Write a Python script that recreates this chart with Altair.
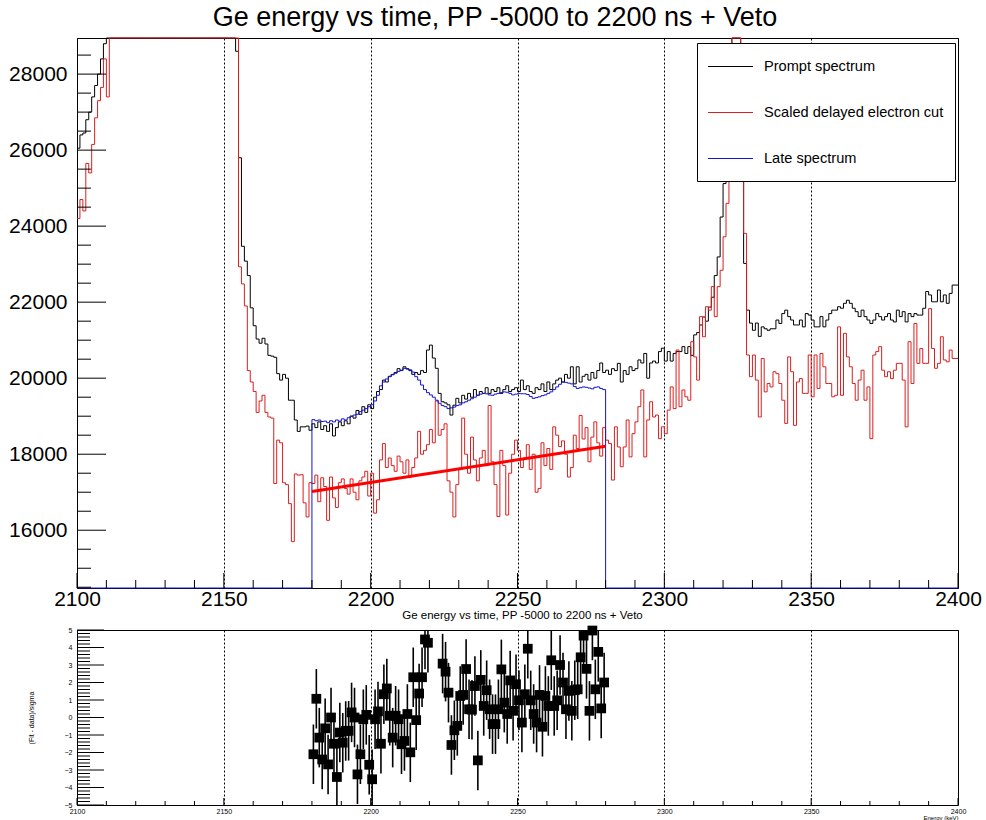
import altair as alt
import pandas as pd

FONT = "Liberation Sans"
TITLE = "Ge energy vs time, PP -5000 to 2200 ns + Veto"

# content of bins that lie above the top of the visible count range
OFF = 30500

# 1 keV bins, low edges 2100 ... 2399
E_FIRST = 2100
E_LAST = 2400

prompt_counts = [
    26050, 26400, 26450, 26800, 27000, 27400, 27700, 28000, 28400, 28800,  # 2100
    OFF, OFF, OFF, OFF, OFF, OFF, OFF, OFF, OFF, OFF,  # 2110
    OFF, OFF, OFF, OFF, OFF, OFF, OFF, OFF, OFF, OFF,  # 2120
    OFF, OFF, OFF, OFF, OFF, OFF, OFF, OFF, OFF, OFF,  # 2130
    OFF, OFF, OFF, OFF, OFF, OFF, OFF, OFF, OFF, OFF,  # 2140
    OFF, OFF, OFF, OFF, 28600, 25800, 23470, 23080, 22700, 21850,  # 2150
    21380, 21030, 20920, 21050, 20900, 20600, 20580, 20550, 20120, 19950,  # 2160
    20100, 20000, 19420, 19420, 18900, 18600, 18720, 18720, 18740, 18630,  # 2170
    18800, 18700, 18850, 18650, 18750, 18600, 18800, 18480, 18700, 18850,  # 2180
    18750, 18880, 18800, 19000, 18950, 19150, 19050, 19250, 19100, 19300,  # 2190
    19200, 19500, 19650, 19700, 19950, 19900, 20050, 20100, 20150, 20250,  # 2200
    20200, 20300, 20250, 20200, 20100, 20150, 20100, 20200, 20150, 20740,  # 2210
    20870, 20530, 20260, 19600, 19380, 19350, 19300, 19030, 19290, 19470,  # 2220
    19350, 19550, 19450, 19600, 19500, 19700, 19550, 19650, 19600, 19750,  # 2230
    19600, 19700, 19650, 19750, 19600, 19700, 19800, 19650, 19700, 19750,  # 2240
    19650, 19950, 19700, 19800, 19650, 19600, 19750, 19700, 19850, 19650,  # 2250
    19900, 19700, 19850, 19950, 20000, 19900, 20100, 20000, 20300, 19850,  # 2260
    20300, 19900, 20050, 20100, 19950, 20150, 20000, 20200, 20400, 20150,  # 2270
    20210, 20100, 20250, 20200, 20390, 19900, 20200, 20100, 20300, 20200,  # 2280
    20250, 20480, 20400, 20650, 20000, 20400, 20450, 20400, 20700, 20790,  # 2290
    20450, 20700, 20450, 20650, 20700, 20700, 20830, 20650, 20830, 20600,  # 2300
    21140, 21200, 21400, 21610, 21500, 21870, 22130, 22700, 23190, 24240,  # 2310
    25120, 26500, 28000, OFF, OFF, OFF, 27000, 23020, 21790, 21450,  # 2320
    21260, 21450, 21100, 21350, 21300, 21260, 21300, 21300, 21530, 21440,  # 2330
    21700, 21790, 21620, 21530, 21400, 21400, 21530, 21350, 21700, 21660,  # 2340
    21530, 21350, 21350, 21620, 21350, 21530, 21700, 21790, 21790, 21880,  # 2350
    21840, 21970, 22050, 21970, 21840, 21750, 21620, 21790, 21620, 21530,  # 2360
    21440, 21530, 21700, 21620, 21530, 21620, 21700, 21530, 21480, 21790,  # 2370
    21620, 21750, 21480, 21700, 21620, 21700, 21660, 21660, 21840, 22280,  # 2380
    22190, 22010, 22010, 22320, 22010, 22190, 21970, 22230, 22450, 22450,  # 2390
]

scaled_counts = [
    24200, 24700, 24400, 25650, 25400, 26150, 26850, 27300, 27650, 28400,  # 2100
    27400, OFF, OFF, OFF, OFF, OFF, OFF, OFF, OFF, OFF,  # 2110
    OFF, OFF, OFF, OFF, OFF, OFF, OFF, OFF, OFF, OFF,  # 2120
    OFF, OFF, OFF, OFF, OFF, OFF, OFF, OFF, OFF, OFF,  # 2130
    OFF, OFF, OFF, OFF, OFF, OFF, OFF, OFF, OFF, OFF,  # 2140
    OFF, OFF, OFF, OFF, OFF, 22930, 22480, 21900, 20200, 19900,  # 2150
    19650, 19100, 19400, 19550, 19100, 18980, 18950, 17230, 18370, 18300,  # 2160
    17250, 17200, 16700, 15700, 17480, 17450, 17460, 16720, 16350, 17250,  # 2170
    17230, 17450, 16750, 17380, 17150, 16260, 17400, 16850, 16600, 17250,  # 2180
    17350, 17100, 16950, 17350, 17000, 16800, 17300, 17400, 17550, 16900,  # 2190
    17500, 16450, 16800, 17850, 18280, 17650, 17900, 17700, 17550, 17950,  # 2200
    17800, 17500, 17850, 17400, 17650, 17900, 18600, 18000, 18100, 18250,  # 2210
    18650, 18300, 19400, 18500, 18650, 18800, 17300, 17000, 16350, 17200,  # 2220
    17600, 18950, 18000, 17500, 18450, 17850, 17300, 17900, 18100, 17700,  # 2230
    19280, 17800, 17200, 16360, 18100, 17700, 16400, 17500, 18000, 18370,  # 2240
    18100, 17650, 17900, 18250, 17600, 18000, 17000, 17100, 18300, 17700,  # 2250
    18150, 17600, 18720, 18500, 18200, 18350, 18000, 17400, 17650, 18500,  # 2260
    18150, 19020, 18400, 18700, 17800, 18450, 18850, 18300, 17950, 18700,  # 2270
    18370, 18280, 17320, 18720, 18190, 17670, 18190, 18900, 17930, 18540,  # 2280
    18850, 19250, 19690, 17930, 18900, 19380, 18980, 19030, 18410, 18720,  # 2290
    18540, 19160, 19770, 19200, 20740, 19250, 19690, 19510, 19420, 20960,  # 2300
    20560, 19950, 21620, 21090, 21880, 21790, 22410, 21620, 22410, 22840,  # 2310
    23720, 24600, 26500, OFF, OFF, OFF, 26000, 23810, 20610, 20040,  # 2320
    20610, 19950, 18980, 20520, 19640, 19860, 19770, 20170, 20120, 19860,  # 2330
    19420, 18810, 20560, 20170, 18760, 19900, 19990, 19600, 19600, 20610,  # 2340
    19510, 20610, 19730, 20650, 20300, 19860, 19860, 19510, 19550, 21350,  # 2350
    19550, 21180, 20560, 20300, 19860, 19420, 19950, 20210, 19420, 19770,  # 2360
    18410, 20610, 20700, 20830, 20210, 20040, 20170, 19990, 20210, 20390,  # 2370
    20390, 19950, 18720, 20960, 19860, 21440, 20390, 20780, 20390, 20390,  # 2380
    21830, 20780, 20260, 20390, 21090, 20480, 20430, 20740, 20520, 20520,  # 2390
]

# late spectrum: filled only for 2180 ... 2279, empty elsewhere
LATE_FIRST = 2180
LATE_LAST = 2280
late_counts = [
    18910, 18880, 18900, 18860, 18870, 18830, 18880, 18850, 18900, 18870,  # 2180
    18930, 18900, 18960, 19000, 19030, 19050, 19120, 19160, 19200, 19250,  # 2190
    19300, 19400, 19550, 19800, 19900, 19980, 20040, 20090, 20130, 20180,  # 2200
    20210, 20260, 20240, 20220, 20160, 20040, 19950, 19820, 19700, 19620,  # 2210
    19560, 19500, 19420, 19340, 19280, 19250, 19200, 19220, 19240, 19280,  # 2220
    19300, 19350, 19380, 19420, 19460, 19500, 19550, 19580, 19600, 19590,  # 2230
    19560, 19550, 19580, 19600, 19620, 19640, 19630, 19600, 19560, 19580,  # 2240
    19600, 19590, 19590, 19570, 19520, 19470, 19490, 19510, 19540, 19560,  # 2250
    19600, 19640, 19700, 19770, 19840, 19900, 19890, 19870, 19850, 19780,  # 2260
    19730, 19750, 19770, 19760, 19740, 19720, 19760, 19770, 19730, 19700,  # 2270
]

fit_energy = [2180, 2280]
fit_counts = [17020, 18210]

# residuals, one per bin from 2180 (values above 5 are off the panel)
RES_FIRST = 2180
residuals = [
    -2.1, 1.07, -1.15, -2.4, -0.62, -2.68, 0.0, -1.5, -3.4, -0.86,  # 2180
    -1.44, -0.77, -0.76, 0.29, 0.0, -3.25, -2.1, -0.1, 0.15, -2.7,  # 2190
    -3.53, -0.1, 0.35, -1.5, 1.33, 1.66, 0.1, -1.15, 0.1, -0.1,  # 2200
    -1.53, -1.34, 0.2, -1.99, 2.3, -0.15, 1.37, 2.3, 4.46, 4.27,  # 2210
    7.5, 8.2, 8.5, 7.0, 3.08, 2.62, 1.42, -1.57, -0.73, -0.48,  # 2220
    1.23, 1.29, 2.77, 0.47, 0.45, 1.8, -2.45, 2.15, 0.66, 1.56,  # 2230
    0.47, -0.38, -0.38, 0.47, 2.75, 0.85, 0.2, 2.12, 0.38, 1.9,  # 2240
    0.98, -0.29, 1.33, 3.93, 0.98, 0.2, -0.29, 1.29, -0.53, 1.23,  # 2250
    0.66, 3.27, 0.66, 0.98, 3.0, 2.0, 0.47, 1.52, 0.38, 1.56,  # 2260
    1.61, 3.44, 4.68, 2.78, 0.38, 4.97, 1.61, 3.75, 0.52, 2.0,  # 2270
]
RES_ERR = 1.7

energy_labels = [2100, 2150, 2200, 2250, 2300, 2350, 2400]
energy_minor = [v for v in range(2110, 2400, 10) if v % 50 != 0]
count_labels = [16000, 18000, 20000, 22000, 24000, 26000, 28000]
count_minor = [v for v in range(14500, 29000, 500) if v % 2000 != 0]
res_labels = [-5, -4, -3, -2, -1, 0, 1, 2, 3, 4, 5]
res_minor = [round(-5 + 0.2 * i, 1) for i in range(51) if i % 5 != 0]

COUNT_DOMAIN = [14480, 28950]
RES_DOMAIN = [-5, 5]

series_names = ["Prompt spectrum", "Scaled delayed electron cut", "Late spectrum"]
series_colors = ["#000000", "#dc1e1e", "#1414d2"]

# ---------------------------------------------------------------- frames
edges = list(range(E_FIRST, E_LAST + 1))


def step_df(vals, name):
    return pd.DataFrame({"e": edges, "v": list(vals) + [vals[-1]], "series": name})


late_full = ([0] * (LATE_FIRST - E_FIRST)) + late_counts + ([0] * (E_LAST - LATE_LAST))
df_prompt = step_df(prompt_counts, series_names[0])
df_scaled = step_df(scaled_counts, series_names[1])
df_late = step_df(late_full, series_names[2])
df_fit = pd.DataFrame({"e": fit_energy, "v": fit_counts})

df_res = pd.DataFrame({
    "e": [RES_FIRST + i + 0.5 for i in range(len(residuals))],
    "r": residuals,
})
df_res["lo"] = df_res["r"] - RES_ERR
df_res["hi"] = df_res["r"] + RES_ERR

W = 881
H_TOP = 550
H_RES = 175

xs = alt.Scale(domain=[E_FIRST, E_LAST], nice=False, zero=False)
ys = alt.Scale(domain=COUNT_DOMAIN, nice=False, zero=False, clamp=True)
rs = alt.Scale(domain=RES_DOMAIN, nice=False, zero=False)
cscale = alt.Scale(domain=series_names, range=series_colors)

top_xaxis = alt.Axis(values=energy_labels, format="d", title=None, grid=True,
                     gridColor="black", gridDash=[2, 2], gridWidth=1, ticks=False,
                     domain=False, labelFontSize=21, labelPadding=0, labelFlush=False,
                     labelOverlap=False, labelColor="black", labelFont=FONT)
top_yaxis = alt.Axis(values=count_labels, format="d", title=None, grid=False,
                     ticks=False, domain=False, labelFontSize=21, labelPadding=10,
                     labelFlush=False, labelOverlap=False, labelColor="black",
                     labelFont=FONT)

NBSP = "\u00a0"
BLANK = "\u2800"  # invisible, non-whitespace: keeps some room right of the labels
legend = alt.Legend(title=NBSP, titleOrient="bottom", titleFontSize=8, titlePadding=8,
                    orient="none", legendX=620, legendY=5,
                    direction="vertical", symbolType="stroke", symbolSize=2025,
                    symbolStrokeWidth=1.2, symbolOffset=10, labelFont=FONT,
                    labelFontSize=14.6, labelOffset=10, labelColor="black",
                    labelLimit=400, padding=0, rowPadding=15, strokeColor="black",
                    fillColor="white", zindex=1,
                    labelExpr="datum.label + '" + BLANK + "'")

X_TOP = alt.X("e:Q", scale=xs, axis=top_xaxis)
Y_TOP = alt.Y("v:Q", scale=ys, axis=top_yaxis)


def hist(df):
    return alt.Chart(df).mark_line(interpolate="step-after", strokeWidth=1).encode(
        x=X_TOP, y=Y_TOP,
        color=alt.Color("series:N", scale=cscale, legend=legend),
    )


fit_line = alt.Chart(df_fit).mark_line(color="#ff0000", strokeWidth=3).encode(x=X_TOP, y=Y_TOP)

ytick_major = alt.Chart(pd.DataFrame({"v": count_labels})).mark_rule(color="black").encode(
    y=Y_TOP, x=alt.value(0), x2=alt.value(29))
ytick_minor = alt.Chart(pd.DataFrame({"v": count_minor})).mark_rule(color="black").encode(
    y=Y_TOP, x=alt.value(0), x2=alt.value(14))
xtick_major = alt.Chart(pd.DataFrame({"e": energy_labels})).mark_rule(color="black").encode(
    x=X_TOP, y=alt.value(H_TOP - 15), y2=alt.value(H_TOP))
xtick_minor = alt.Chart(pd.DataFrame({"e": energy_minor})).mark_rule(color="black").encode(
    x=X_TOP, y=alt.value(H_TOP - 8), y2=alt.value(H_TOP))

top = alt.layer(
    hist(df_prompt), hist(df_scaled), hist(df_late), fit_line,
    ytick_major, ytick_minor, xtick_major, xtick_minor,
).properties(width=W, height=H_TOP)

# ---------------------------------------------------------------- residuals
res_xaxis = alt.Axis(values=energy_labels, format="d", title="Energy (keV)", grid=True,
                     gridColor="black", gridDash=[2, 2], gridWidth=1, ticks=False,
                     domain=False, labelFontSize=7, labelPadding=2, labelFlush=False,
                     labelOverlap=False, labelColor="black", labelFont=FONT,
                     titleFontSize=6, titleFont=FONT, titleFontWeight="normal",
                     titleAnchor="end", titlePadding=0, titleColor="black")
res_yaxis = alt.Axis(values=res_labels, format="d", title="(Fit - data)/sigma",
                     grid=False, ticks=False, domain=False, labelFontSize=7,
                     labelPadding=5, labelFlush=False, labelOverlap=False,
                     labelColor="black", labelFont=FONT, titleFontSize=7,
                     titleFont=FONT, titleFontWeight="normal", titlePadding=30,
                     titleColor="black")
X_RES = alt.X("e:Q", scale=xs, axis=res_xaxis)

err = alt.Chart(df_res).mark_rule(color="black", strokeWidth=1.6, clip=True).encode(
    x=X_RES, y=alt.Y("lo:Q", scale=rs, axis=res_yaxis), y2="hi:Q")
pts = alt.Chart(df_res).transform_filter(
    (alt.datum.r >= RES_DOMAIN[0]) & (alt.datum.r <= RES_DOMAIN[1])
).mark_square(size=95, color="black", opacity=1, filled=True).encode(
    x=X_RES, y=alt.Y("r:Q", scale=rs, axis=res_yaxis))

Y_RES = alt.Y("v:Q", scale=rs, axis=res_yaxis)
rtick_major = alt.Chart(pd.DataFrame({"v": res_labels})).mark_rule(color="black").encode(
    y=Y_RES, x=alt.value(0), x2=alt.value(27))
rtick_minor = alt.Chart(pd.DataFrame({"v": res_minor})).mark_rule(color="black").encode(
    y=Y_RES, x=alt.value(0), x2=alt.value(13))
rxtick_major = alt.Chart(pd.DataFrame({"e": energy_labels})).mark_rule(color="black").encode(
    x=X_RES, y=alt.value(H_RES - 7), y2=alt.value(H_RES))
rxtick_minor = alt.Chart(pd.DataFrame({"e": energy_minor})).mark_rule(color="black").encode(
    x=X_RES, y=alt.value(H_RES - 4), y2=alt.value(H_RES))

bottom = alt.layer(
    err, pts, rtick_major, rtick_minor, rxtick_major, rxtick_minor,
).properties(
    width=W, height=H_RES,
    title=alt.TitleParams(TITLE, fontSize=11.5, font=FONT, fontWeight="normal",
                          anchor="middle", offset=4, color="black", dx=5),
)

chart = alt.vconcat(
    top, bottom, spacing=42, bounds="flush",
    title=alt.TitleParams(TITLE, fontSize=27, font=FONT, fontWeight="normal",
                          anchor="middle", offset=4, color="black"),
).configure(
    padding={"left": 8, "top": 3, "right": 2, "bottom": 0},
    background="white",
).configure_view(stroke="black", strokeWidth=1)

chart.save("out.html", embed_options={"renderer": "svg", "actions": False})
